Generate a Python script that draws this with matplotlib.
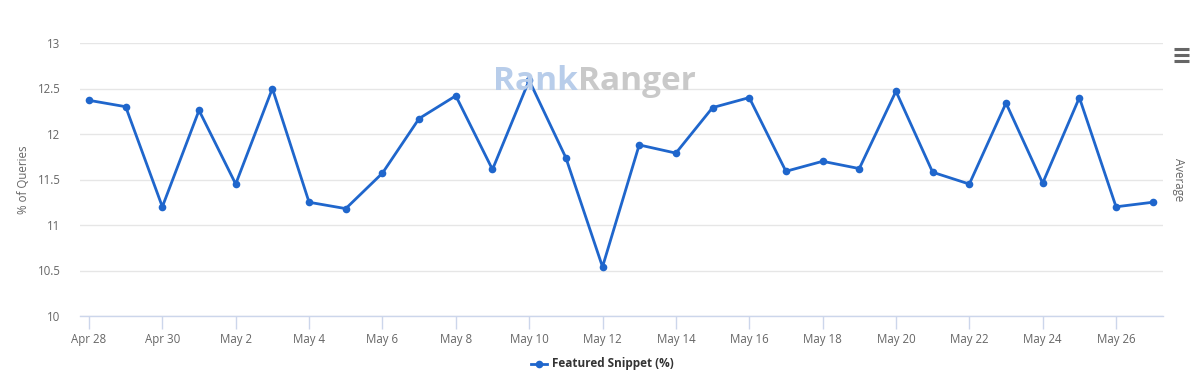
import matplotlib
matplotlib.use("Agg")
import matplotlib.pyplot as plt
import pandas as pd

# daily share of queries showing a featured snippet
dates = pd.date_range("2019-04-28", "2019-05-27", freq="D")
snippet_pct = [12.37, 12.30, 11.20, 12.26, 11.45, 12.50, 11.25, 11.18, 11.57, 12.17,
               12.42, 11.61, 12.59, 11.74, 10.54, 11.88, 11.79, 12.29, 12.40, 11.59,
               11.70, 11.62, 12.47, 11.58, 11.45, 12.34, 11.46, 12.40, 11.20, 11.25]
y_ticks = [10, 10.5, 11, 11.5, 12, 12.5, 13]
series_name = "Featured Snippet (%)"

LINE = "#1f66cc"
GRID = "#e6e6e6"
AXIS = "#ccd6eb"
LABEL = "#666666"

plt.rcParams["font.family"] = ["Open Sans", "DejaVu Sans"]

W, H = 1198, 390
fig = plt.figure(figsize=(W / 100, H / 100), dpi=100)
ax = fig.add_axes([80 / W, (H - 316) / H, (1163 - 80) / W, (316 - 43) / H])

ax.plot(dates, snippet_pct, color=LINE, lw=2, marker="o", ms=5.5,
        markeredgewidth=0, zorder=3)

day = pd.Timedelta(days=1)
ax.set_xlim(dates[0] - 0.245 * day, dates[0] + 29.28 * day)
ax.set_ylim(10, 13)
ax.set_yticks(y_ticks)
ax.set_yticklabels([f"{v:g}" for v in y_ticks])

ax.set_xticks(dates[::2])
ax.set_xticklabels([d.strftime("%b ") + str(d.day) for d in dates[::2]])

ax.grid(axis="y", color=GRID, lw=1)
ax.set_axisbelow(True)
for side in ["top", "right", "left"]:
    ax.spines[side].set_visible(False)
ax.spines["bottom"].set_color(AXIS)
ax.spines["bottom"].set_linewidth(1)
ax.tick_params(axis="y", length=0, pad=14, labelsize=8.3, labelcolor=LABEL)
ax.tick_params(axis="x", length=9, width=1, color=AXIS, pad=3,
               labelsize=8.3, labelcolor=LABEL)

ax.set_ylabel("% of Queries", color=LABEL, fontsize=8.3)
ax.yaxis.set_label_coords(-50 / (1163 - 80), 0.5)

fig.text(1178 / W, 1 - 180 / H, "Average", rotation=-90, color=LABEL,
         fontsize=8.3, ha="center", va="center")

# watermark, drawn behind the series
rank = fig.text(493 / W, 1 - 81 / H, "Rank", color="#b8cdea", fontsize=24,
                fontweight="bold", ha="left", va="center", zorder=0)
fig.canvas.draw()
bb = rank.get_window_extent()
fig.text(bb.x1 / W, 1 - 81 / H, "Ranger", color="#c9c9c9", fontsize=24,
         fontweight="bold", ha="left", va="center", zorder=0)

# menu icon
for yy in [49, 55, 61]:
    fig.add_artist(plt.Line2D([1174 / W, 1189 / W], [1 - yy / H, 1 - yy / H],
                              color="#666666", lw=2.2, solid_capstyle="butt"))

# legend
fig.add_artist(plt.Line2D([531 / W, 547 / W], [1 - 364 / H, 1 - 364 / H],
                          color=LINE, lw=2))
fig.add_artist(plt.Line2D([539 / W], [1 - 364 / H], color=LINE, marker="o",
                          ms=5.5, markeredgewidth=0))
fig.text(552 / W, 1 - 364 / H, series_name, color="#333333", fontsize=8.5,
         fontweight="bold", ha="left", va="center")

fig.savefig("out.png", dpi=100)
